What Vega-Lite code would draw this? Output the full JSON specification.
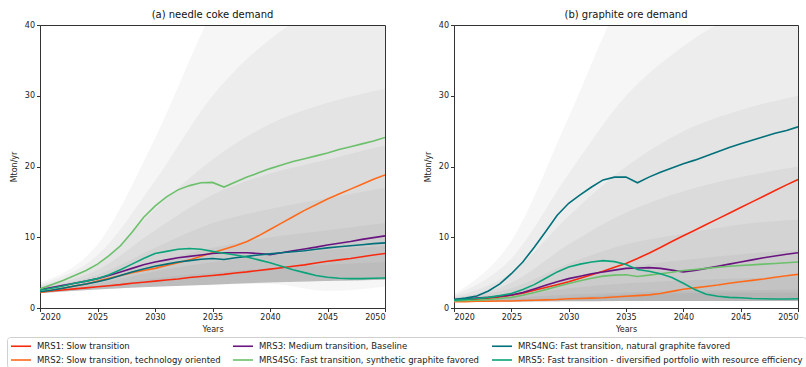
{
"$schema":"https://vega.github.io/schema/vega-lite/v6.json",
"padding":{"left":6,"top":9,"right":0,"bottom":0},
"background":"white",
"config":{
 "font":"DejaVu Sans",
 "view":{"stroke":"#333","strokeWidth":1},
 "axis":{"grid":false,"labelFontSize":8,"titleFontSize":8,"titleFontWeight":"normal","labelColor":"#222","titleColor":"#222","tickColor":"#333","domainColor":"#333","tickSize":3.5,"labelPadding":2,"labelFont":"DejaVu Sans","titleFont":"DejaVu Sans"},
 "title":{"fontSize":10,"fontWeight":"normal","font":"DejaVu Sans","color":"#111","offset":1}
},
"datasets":{
"bands":[
{"p":"a","band":"L1","year":2020,"lo":2.1,"hi":3.6},{"p":"a","band":"L1","year":2025,"lo":2.6,"hi":9},{"p":"a","band":"L1","year":2030,"lo":3.0,"hi":24},{"p":"a","band":"L1","year":2035,"lo":3.3,"hi":42},{"p":"a","band":"L1","year":2040,"lo":3.4,"hi":55},{"p":"a","band":"L1","year":2045,"lo":2.4,"hi":62},{"p":"a","band":"L1","year":2050,"lo":3.0,"hi":68},
{"p":"a","band":"L2","year":2020,"lo":2.1,"hi":3.4},{"p":"a","band":"L2","year":2025,"lo":2.6,"hi":7.5},{"p":"a","band":"L2","year":2030,"lo":3.0,"hi":18},{"p":"a","band":"L2","year":2035,"lo":3.3,"hi":30},{"p":"a","band":"L2","year":2040,"lo":3.6,"hi":38},{"p":"a","band":"L2","year":2045,"lo":3.8,"hi":43},{"p":"a","band":"L2","year":2050,"lo":4.0,"hi":46},
{"p":"a","band":"L3","year":2020,"lo":2.1,"hi":3.2},{"p":"a","band":"L3","year":2025,"lo":2.6,"hi":6.3},{"p":"a","band":"L3","year":2030,"lo":3.0,"hi":14},{"p":"a","band":"L3","year":2035,"lo":3.3,"hi":21},{"p":"a","band":"L3","year":2040,"lo":3.6,"hi":26},{"p":"a","band":"L3","year":2045,"lo":3.8,"hi":29},{"p":"a","band":"L3","year":2050,"lo":4.0,"hi":31},
{"p":"a","band":"L4","year":2020,"lo":2.1,"hi":3.0},{"p":"a","band":"L4","year":2025,"lo":2.6,"hi":5.4},{"p":"a","band":"L4","year":2030,"lo":3.0,"hi":11},{"p":"a","band":"L4","year":2035,"lo":3.3,"hi":16},{"p":"a","band":"L4","year":2040,"lo":3.6,"hi":19},{"p":"a","band":"L4","year":2045,"lo":3.8,"hi":21},{"p":"a","band":"L4","year":2050,"lo":4.0,"hi":23},
{"p":"a","band":"L5","year":2020,"lo":2.1,"hi":2.8},{"p":"a","band":"L5","year":2025,"lo":2.6,"hi":4.7},{"p":"a","band":"L5","year":2030,"lo":3.0,"hi":8.5},{"p":"a","band":"L5","year":2035,"lo":3.3,"hi":12},{"p":"a","band":"L5","year":2040,"lo":3.6,"hi":14},{"p":"a","band":"L5","year":2045,"lo":3.8,"hi":15.5},{"p":"a","band":"L5","year":2050,"lo":4.0,"hi":17},
{"p":"a","band":"L6","year":2020,"lo":2.1,"hi":2.6},{"p":"a","band":"L6","year":2025,"lo":2.6,"hi":4.0},{"p":"a","band":"L6","year":2030,"lo":3.0,"hi":6.5},{"p":"a","band":"L6","year":2035,"lo":3.3,"hi":8.5},{"p":"a","band":"L6","year":2040,"lo":3.6,"hi":10},{"p":"a","band":"L6","year":2045,"lo":3.8,"hi":11},{"p":"a","band":"L6","year":2050,"lo":4.0,"hi":12},
{"p":"a","band":"L7","year":2020,"lo":2.1,"hi":2.45},{"p":"a","band":"L7","year":2025,"lo":2.6,"hi":3.5},{"p":"a","band":"L7","year":2030,"lo":3.0,"hi":5.2},{"p":"a","band":"L7","year":2035,"lo":3.3,"hi":6.5},{"p":"a","band":"L7","year":2040,"lo":3.6,"hi":7.4},{"p":"a","band":"L7","year":2045,"lo":3.8,"hi":8.2},{"p":"a","band":"L7","year":2050,"lo":4.0,"hi":8.8},
{"p":"a","band":"L8","year":2020,"lo":2.1,"hi":2.3},{"p":"a","band":"L8","year":2025,"lo":2.6,"hi":3.1},{"p":"a","band":"L8","year":2030,"lo":3.0,"hi":4.2},{"p":"a","band":"L8","year":2035,"lo":3.3,"hi":5.0},{"p":"a","band":"L8","year":2040,"lo":3.6,"hi":5.6},{"p":"a","band":"L8","year":2045,"lo":3.8,"hi":6.1},{"p":"a","band":"L8","year":2050,"lo":4.0,"hi":6.5},
{"p":"b","band":"L1","year":2020,"lo":0.9,"hi":2.0},{"p":"b","band":"L1","year":2025,"lo":0.9,"hi":9.5},{"p":"b","band":"L1","year":2030,"lo":0.95,"hi":27},{"p":"b","band":"L1","year":2035,"lo":1.0,"hi":45},{"p":"b","band":"L1","year":2040,"lo":1.0,"hi":55},{"p":"b","band":"L1","year":2045,"lo":1.0,"hi":62},{"p":"b","band":"L1","year":2050,"lo":1.0,"hi":68},
{"p":"b","band":"L2","year":2020,"lo":0.9,"hi":1.8},{"p":"b","band":"L2","year":2025,"lo":0.9,"hi":7},{"p":"b","band":"L2","year":2030,"lo":0.95,"hi":19},{"p":"b","band":"L2","year":2035,"lo":1.0,"hi":30},{"p":"b","band":"L2","year":2040,"lo":1.0,"hi":37},{"p":"b","band":"L2","year":2045,"lo":1.0,"hi":42},{"p":"b","band":"L2","year":2050,"lo":1.0,"hi":46},
{"p":"b","band":"L3","year":2020,"lo":0.9,"hi":1.65},{"p":"b","band":"L3","year":2025,"lo":0.9,"hi":5},{"p":"b","band":"L3","year":2030,"lo":0.95,"hi":13},{"p":"b","band":"L3","year":2035,"lo":1.0,"hi":20},{"p":"b","band":"L3","year":2040,"lo":1.0,"hi":25},{"p":"b","band":"L3","year":2045,"lo":1.0,"hi":28},{"p":"b","band":"L3","year":2050,"lo":1.0,"hi":30},
{"p":"b","band":"L4","year":2020,"lo":0.9,"hi":1.5},{"p":"b","band":"L4","year":2025,"lo":0.9,"hi":3.6},{"p":"b","band":"L4","year":2030,"lo":0.95,"hi":9},{"p":"b","band":"L4","year":2035,"lo":1.0,"hi":13.5},{"p":"b","band":"L4","year":2040,"lo":1.0,"hi":16.5},{"p":"b","band":"L4","year":2045,"lo":1.0,"hi":18.5},{"p":"b","band":"L4","year":2050,"lo":1.0,"hi":20},
{"p":"b","band":"L5","year":2020,"lo":0.9,"hi":1.4},{"p":"b","band":"L5","year":2025,"lo":0.9,"hi":2.8},{"p":"b","band":"L5","year":2030,"lo":0.95,"hi":6.3},{"p":"b","band":"L5","year":2035,"lo":1.0,"hi":9},{"p":"b","band":"L5","year":2040,"lo":1.0,"hi":10.5},{"p":"b","band":"L5","year":2045,"lo":1.0,"hi":11.8},{"p":"b","band":"L5","year":2050,"lo":1.0,"hi":12.5},
{"p":"b","band":"L6","year":2020,"lo":0.9,"hi":1.3},{"p":"b","band":"L6","year":2025,"lo":0.9,"hi":2.2},{"p":"b","band":"L6","year":2030,"lo":0.95,"hi":4.3},{"p":"b","band":"L6","year":2035,"lo":1.0,"hi":5.8},{"p":"b","band":"L6","year":2040,"lo":1.0,"hi":6.8},{"p":"b","band":"L6","year":2045,"lo":1.0,"hi":7.6},{"p":"b","band":"L6","year":2050,"lo":1.0,"hi":8.2},
{"p":"b","band":"L7","year":2020,"lo":0.9,"hi":1.2},{"p":"b","band":"L7","year":2025,"lo":0.9,"hi":1.7},{"p":"b","band":"L7","year":2030,"lo":0.95,"hi":2.8},{"p":"b","band":"L7","year":2035,"lo":1.0,"hi":3.5},{"p":"b","band":"L7","year":2040,"lo":1.0,"hi":3.9},{"p":"b","band":"L7","year":2045,"lo":1.0,"hi":4.2},{"p":"b","band":"L7","year":2050,"lo":1.0,"hi":4.5},
{"p":"b","band":"L8","year":2020,"lo":0.9,"hi":1.1},{"p":"b","band":"L8","year":2025,"lo":0.9,"hi":1.4},{"p":"b","band":"L8","year":2030,"lo":0.95,"hi":1.9},{"p":"b","band":"L8","year":2035,"lo":1.0,"hi":2.2},{"p":"b","band":"L8","year":2040,"lo":1.0,"hi":2.4},{"p":"b","band":"L8","year":2045,"lo":1.0,"hi":2.5},{"p":"b","band":"L8","year":2050,"lo":1.0,"hi":2.6},
{"p":"b","band":"L9","year":2020,"lo":0.95,"hi":1.1},{"p":"b","band":"L9","year":2025,"lo":0.95,"hi":1.2},{"p":"b","band":"L9","year":2030,"lo":1.0,"hi":1.5},{"p":"b","band":"L9","year":2035,"lo":1.0,"hi":1.9},{"p":"b","band":"L9","year":2040,"lo":1.0,"hi":2.1},{"p":"b","band":"L9","year":2045,"lo":1.0,"hi":2.2},{"p":"b","band":"L9","year":2050,"lo":1.0,"hi":2.2}
],
"lines":[
{"p":"a","s":"MRS1","year":2020,"v":2.25},{"p":"a","s":"MRS1","year":2021,"v":2.4},{"p":"a","s":"MRS1","year":2022,"v":2.55},{"p":"a","s":"MRS1","year":2023,"v":2.7},{"p":"a","s":"MRS1","year":2024,"v":2.85},{"p":"a","s":"MRS1","year":2025,"v":3.0},{"p":"a","s":"MRS1","year":2026,"v":3.15},{"p":"a","s":"MRS1","year":2027,"v":3.3},{"p":"a","s":"MRS1","year":2028,"v":3.5},{"p":"a","s":"MRS1","year":2029,"v":3.65},{"p":"a","s":"MRS1","year":2030,"v":3.8},{"p":"a","s":"MRS1","year":2031,"v":3.95},{"p":"a","s":"MRS1","year":2032,"v":4.1},{"p":"a","s":"MRS1","year":2033,"v":4.3},{"p":"a","s":"MRS1","year":2034,"v":4.45},{"p":"a","s":"MRS1","year":2035,"v":4.6},{"p":"a","s":"MRS1","year":2036,"v":4.75},{"p":"a","s":"MRS1","year":2037,"v":4.95},{"p":"a","s":"MRS1","year":2038,"v":5.1},{"p":"a","s":"MRS1","year":2039,"v":5.3},{"p":"a","s":"MRS1","year":2040,"v":5.5},{"p":"a","s":"MRS1","year":2041,"v":5.7},{"p":"a","s":"MRS1","year":2042,"v":5.9},{"p":"a","s":"MRS1","year":2043,"v":6.1},{"p":"a","s":"MRS1","year":2044,"v":6.35},{"p":"a","s":"MRS1","year":2045,"v":6.6},{"p":"a","s":"MRS1","year":2046,"v":6.8},{"p":"a","s":"MRS1","year":2047,"v":7.0},{"p":"a","s":"MRS1","year":2048,"v":7.25},{"p":"a","s":"MRS1","year":2049,"v":7.5},{"p":"a","s":"MRS1","year":2050,"v":7.7},
{"p":"a","s":"MRS2","year":2020,"v":2.2},{"p":"a","s":"MRS2","year":2021,"v":2.5},{"p":"a","s":"MRS2","year":2022,"v":2.8},{"p":"a","s":"MRS2","year":2023,"v":3.1},{"p":"a","s":"MRS2","year":2024,"v":3.4},{"p":"a","s":"MRS2","year":2025,"v":3.8},{"p":"a","s":"MRS2","year":2026,"v":4.2},{"p":"a","s":"MRS2","year":2027,"v":4.6},{"p":"a","s":"MRS2","year":2028,"v":5.0},{"p":"a","s":"MRS2","year":2029,"v":5.3},{"p":"a","s":"MRS2","year":2030,"v":5.6},{"p":"a","s":"MRS2","year":2031,"v":6.0},{"p":"a","s":"MRS2","year":2032,"v":6.4},{"p":"a","s":"MRS2","year":2033,"v":6.8},{"p":"a","s":"MRS2","year":2034,"v":7.3},{"p":"a","s":"MRS2","year":2035,"v":7.8},{"p":"a","s":"MRS2","year":2036,"v":8.3},{"p":"a","s":"MRS2","year":2037,"v":8.8},{"p":"a","s":"MRS2","year":2038,"v":9.4},{"p":"a","s":"MRS2","year":2039,"v":10.2},{"p":"a","s":"MRS2","year":2040,"v":11.1},{"p":"a","s":"MRS2","year":2041,"v":12.0},{"p":"a","s":"MRS2","year":2042,"v":12.9},{"p":"a","s":"MRS2","year":2043,"v":13.8},{"p":"a","s":"MRS2","year":2044,"v":14.6},{"p":"a","s":"MRS2","year":2045,"v":15.4},{"p":"a","s":"MRS2","year":2046,"v":16.1},{"p":"a","s":"MRS2","year":2047,"v":16.8},{"p":"a","s":"MRS2","year":2048,"v":17.5},{"p":"a","s":"MRS2","year":2049,"v":18.2},{"p":"a","s":"MRS2","year":2050,"v":18.8},
{"p":"a","s":"MRS3","year":2020,"v":2.6},{"p":"a","s":"MRS3","year":2021,"v":2.9},{"p":"a","s":"MRS3","year":2022,"v":3.2},{"p":"a","s":"MRS3","year":2023,"v":3.5},{"p":"a","s":"MRS3","year":2024,"v":3.8},{"p":"a","s":"MRS3","year":2025,"v":4.15},{"p":"a","s":"MRS3","year":2026,"v":4.6},{"p":"a","s":"MRS3","year":2027,"v":5.1},{"p":"a","s":"MRS3","year":2028,"v":5.6},{"p":"a","s":"MRS3","year":2029,"v":6.1},{"p":"a","s":"MRS3","year":2030,"v":6.5},{"p":"a","s":"MRS3","year":2031,"v":6.8},{"p":"a","s":"MRS3","year":2032,"v":7.1},{"p":"a","s":"MRS3","year":2033,"v":7.3},{"p":"a","s":"MRS3","year":2034,"v":7.5},{"p":"a","s":"MRS3","year":2035,"v":7.7},{"p":"a","s":"MRS3","year":2036,"v":7.8},{"p":"a","s":"MRS3","year":2037,"v":7.8},{"p":"a","s":"MRS3","year":2038,"v":7.8},{"p":"a","s":"MRS3","year":2039,"v":7.7},{"p":"a","s":"MRS3","year":2040,"v":7.55},{"p":"a","s":"MRS3","year":2041,"v":7.8},{"p":"a","s":"MRS3","year":2042,"v":8.1},{"p":"a","s":"MRS3","year":2043,"v":8.35},{"p":"a","s":"MRS3","year":2044,"v":8.6},{"p":"a","s":"MRS3","year":2045,"v":8.9},{"p":"a","s":"MRS3","year":2046,"v":9.15},{"p":"a","s":"MRS3","year":2047,"v":9.4},{"p":"a","s":"MRS3","year":2048,"v":9.7},{"p":"a","s":"MRS3","year":2049,"v":9.95},{"p":"a","s":"MRS3","year":2050,"v":10.2},
{"p":"a","s":"MRS4SG","year":2020,"v":2.7},{"p":"a","s":"MRS4SG","year":2021,"v":3.3},{"p":"a","s":"MRS4SG","year":2022,"v":3.9},{"p":"a","s":"MRS4SG","year":2023,"v":4.6},{"p":"a","s":"MRS4SG","year":2024,"v":5.3},{"p":"a","s":"MRS4SG","year":2025,"v":6.2},{"p":"a","s":"MRS4SG","year":2026,"v":7.4},{"p":"a","s":"MRS4SG","year":2027,"v":8.8},{"p":"a","s":"MRS4SG","year":2028,"v":10.7},{"p":"a","s":"MRS4SG","year":2029,"v":12.8},{"p":"a","s":"MRS4SG","year":2030,"v":14.4},{"p":"a","s":"MRS4SG","year":2031,"v":15.7},{"p":"a","s":"MRS4SG","year":2032,"v":16.7},{"p":"a","s":"MRS4SG","year":2033,"v":17.3},{"p":"a","s":"MRS4SG","year":2034,"v":17.7},{"p":"a","s":"MRS4SG","year":2035,"v":17.75},{"p":"a","s":"MRS4SG","year":2036,"v":17.1},{"p":"a","s":"MRS4SG","year":2037,"v":17.8},{"p":"a","s":"MRS4SG","year":2038,"v":18.5},{"p":"a","s":"MRS4SG","year":2039,"v":19.1},{"p":"a","s":"MRS4SG","year":2040,"v":19.7},{"p":"a","s":"MRS4SG","year":2041,"v":20.2},{"p":"a","s":"MRS4SG","year":2042,"v":20.7},{"p":"a","s":"MRS4SG","year":2043,"v":21.1},{"p":"a","s":"MRS4SG","year":2044,"v":21.5},{"p":"a","s":"MRS4SG","year":2045,"v":21.9},{"p":"a","s":"MRS4SG","year":2046,"v":22.4},{"p":"a","s":"MRS4SG","year":2047,"v":22.8},{"p":"a","s":"MRS4SG","year":2048,"v":23.2},{"p":"a","s":"MRS4SG","year":2049,"v":23.6},{"p":"a","s":"MRS4SG","year":2050,"v":24.1},
{"p":"a","s":"MRS4NG","year":2020,"v":2.3},{"p":"a","s":"MRS4NG","year":2021,"v":2.5},{"p":"a","s":"MRS4NG","year":2022,"v":2.8},{"p":"a","s":"MRS4NG","year":2023,"v":3.1},{"p":"a","s":"MRS4NG","year":2024,"v":3.4},{"p":"a","s":"MRS4NG","year":2025,"v":3.7},{"p":"a","s":"MRS4NG","year":2026,"v":4.1},{"p":"a","s":"MRS4NG","year":2027,"v":4.6},{"p":"a","s":"MRS4NG","year":2028,"v":5.1},{"p":"a","s":"MRS4NG","year":2029,"v":5.5},{"p":"a","s":"MRS4NG","year":2030,"v":5.9},{"p":"a","s":"MRS4NG","year":2031,"v":6.2},{"p":"a","s":"MRS4NG","year":2032,"v":6.5},{"p":"a","s":"MRS4NG","year":2033,"v":6.7},{"p":"a","s":"MRS4NG","year":2034,"v":6.9},{"p":"a","s":"MRS4NG","year":2035,"v":7.0},{"p":"a","s":"MRS4NG","year":2036,"v":6.85},{"p":"a","s":"MRS4NG","year":2037,"v":7.1},{"p":"a","s":"MRS4NG","year":2038,"v":7.3},{"p":"a","s":"MRS4NG","year":2039,"v":7.5},{"p":"a","s":"MRS4NG","year":2040,"v":7.65},{"p":"a","s":"MRS4NG","year":2041,"v":7.8},{"p":"a","s":"MRS4NG","year":2042,"v":7.95},{"p":"a","s":"MRS4NG","year":2043,"v":8.1},{"p":"a","s":"MRS4NG","year":2044,"v":8.3},{"p":"a","s":"MRS4NG","year":2045,"v":8.5},{"p":"a","s":"MRS4NG","year":2046,"v":8.65},{"p":"a","s":"MRS4NG","year":2047,"v":8.8},{"p":"a","s":"MRS4NG","year":2048,"v":8.95},{"p":"a","s":"MRS4NG","year":2049,"v":9.1},{"p":"a","s":"MRS4NG","year":2050,"v":9.2},
{"p":"a","s":"MRS5","year":2020,"v":2.5},{"p":"a","s":"MRS5","year":2021,"v":2.8},{"p":"a","s":"MRS5","year":2022,"v":3.1},{"p":"a","s":"MRS5","year":2023,"v":3.5},{"p":"a","s":"MRS5","year":2024,"v":3.8},{"p":"a","s":"MRS5","year":2025,"v":4.15},{"p":"a","s":"MRS5","year":2026,"v":4.7},{"p":"a","s":"MRS5","year":2027,"v":5.4},{"p":"a","s":"MRS5","year":2028,"v":6.2},{"p":"a","s":"MRS5","year":2029,"v":7.0},{"p":"a","s":"MRS5","year":2030,"v":7.7},{"p":"a","s":"MRS5","year":2031,"v":8.0},{"p":"a","s":"MRS5","year":2032,"v":8.3},{"p":"a","s":"MRS5","year":2033,"v":8.4},{"p":"a","s":"MRS5","year":2034,"v":8.3},{"p":"a","s":"MRS5","year":2035,"v":8.0},{"p":"a","s":"MRS5","year":2036,"v":7.75},{"p":"a","s":"MRS5","year":2037,"v":7.5},{"p":"a","s":"MRS5","year":2038,"v":7.2},{"p":"a","s":"MRS5","year":2039,"v":6.8},{"p":"a","s":"MRS5","year":2040,"v":6.4},{"p":"a","s":"MRS5","year":2041,"v":5.9},{"p":"a","s":"MRS5","year":2042,"v":5.4},{"p":"a","s":"MRS5","year":2043,"v":5.0},{"p":"a","s":"MRS5","year":2044,"v":4.6},{"p":"a","s":"MRS5","year":2045,"v":4.35},{"p":"a","s":"MRS5","year":2046,"v":4.2},{"p":"a","s":"MRS5","year":2047,"v":4.15},{"p":"a","s":"MRS5","year":2048,"v":4.15},{"p":"a","s":"MRS5","year":2049,"v":4.2},{"p":"a","s":"MRS5","year":2050,"v":4.25},
{"p":"b","s":"MRS1","year":2020,"v":1.0},{"p":"b","s":"MRS1","year":2021,"v":1.1},{"p":"b","s":"MRS1","year":2022,"v":1.2},{"p":"b","s":"MRS1","year":2023,"v":1.35},{"p":"b","s":"MRS1","year":2024,"v":1.55},{"p":"b","s":"MRS1","year":2025,"v":1.8},{"p":"b","s":"MRS1","year":2026,"v":2.1},{"p":"b","s":"MRS1","year":2027,"v":2.5},{"p":"b","s":"MRS1","year":2028,"v":2.9},{"p":"b","s":"MRS1","year":2029,"v":3.3},{"p":"b","s":"MRS1","year":2030,"v":3.7},{"p":"b","s":"MRS1","year":2031,"v":4.2},{"p":"b","s":"MRS1","year":2032,"v":4.7},{"p":"b","s":"MRS1","year":2033,"v":5.2},{"p":"b","s":"MRS1","year":2034,"v":5.75},{"p":"b","s":"MRS1","year":2035,"v":6.3},{"p":"b","s":"MRS1","year":2036,"v":7.0},{"p":"b","s":"MRS1","year":2037,"v":7.75},{"p":"b","s":"MRS1","year":2038,"v":8.55},{"p":"b","s":"MRS1","year":2039,"v":9.4},{"p":"b","s":"MRS1","year":2040,"v":10.2},{"p":"b","s":"MRS1","year":2041,"v":11.0},{"p":"b","s":"MRS1","year":2042,"v":11.8},{"p":"b","s":"MRS1","year":2043,"v":12.6},{"p":"b","s":"MRS1","year":2044,"v":13.4},{"p":"b","s":"MRS1","year":2045,"v":14.2},{"p":"b","s":"MRS1","year":2046,"v":15.0},{"p":"b","s":"MRS1","year":2047,"v":15.8},{"p":"b","s":"MRS1","year":2048,"v":16.6},{"p":"b","s":"MRS1","year":2049,"v":17.4},{"p":"b","s":"MRS1","year":2050,"v":18.15},
{"p":"b","s":"MRS2","year":2020,"v":0.9},{"p":"b","s":"MRS2","year":2021,"v":0.9},{"p":"b","s":"MRS2","year":2022,"v":0.95},{"p":"b","s":"MRS2","year":2023,"v":0.95},{"p":"b","s":"MRS2","year":2024,"v":1.0},{"p":"b","s":"MRS2","year":2025,"v":1.0},{"p":"b","s":"MRS2","year":2026,"v":1.05},{"p":"b","s":"MRS2","year":2027,"v":1.1},{"p":"b","s":"MRS2","year":2028,"v":1.15},{"p":"b","s":"MRS2","year":2029,"v":1.2},{"p":"b","s":"MRS2","year":2030,"v":1.3},{"p":"b","s":"MRS2","year":2031,"v":1.35},{"p":"b","s":"MRS2","year":2032,"v":1.4},{"p":"b","s":"MRS2","year":2033,"v":1.45},{"p":"b","s":"MRS2","year":2034,"v":1.55},{"p":"b","s":"MRS2","year":2035,"v":1.65},{"p":"b","s":"MRS2","year":2036,"v":1.75},{"p":"b","s":"MRS2","year":2037,"v":1.85},{"p":"b","s":"MRS2","year":2038,"v":2.05},{"p":"b","s":"MRS2","year":2039,"v":2.35},{"p":"b","s":"MRS2","year":2040,"v":2.65},{"p":"b","s":"MRS2","year":2041,"v":2.85},{"p":"b","s":"MRS2","year":2042,"v":3.05},{"p":"b","s":"MRS2","year":2043,"v":3.25},{"p":"b","s":"MRS2","year":2044,"v":3.5},{"p":"b","s":"MRS2","year":2045,"v":3.7},{"p":"b","s":"MRS2","year":2046,"v":3.9},{"p":"b","s":"MRS2","year":2047,"v":4.1},{"p":"b","s":"MRS2","year":2048,"v":4.35},{"p":"b","s":"MRS2","year":2049,"v":4.55},{"p":"b","s":"MRS2","year":2050,"v":4.75},
{"p":"b","s":"MRS3","year":2020,"v":1.2},{"p":"b","s":"MRS3","year":2021,"v":1.3},{"p":"b","s":"MRS3","year":2022,"v":1.4},{"p":"b","s":"MRS3","year":2023,"v":1.5},{"p":"b","s":"MRS3","year":2024,"v":1.65},{"p":"b","s":"MRS3","year":2025,"v":1.85},{"p":"b","s":"MRS3","year":2026,"v":2.2},{"p":"b","s":"MRS3","year":2027,"v":2.7},{"p":"b","s":"MRS3","year":2028,"v":3.2},{"p":"b","s":"MRS3","year":2029,"v":3.7},{"p":"b","s":"MRS3","year":2030,"v":4.15},{"p":"b","s":"MRS3","year":2031,"v":4.5},{"p":"b","s":"MRS3","year":2032,"v":4.85},{"p":"b","s":"MRS3","year":2033,"v":5.1},{"p":"b","s":"MRS3","year":2034,"v":5.35},{"p":"b","s":"MRS3","year":2035,"v":5.6},{"p":"b","s":"MRS3","year":2036,"v":5.65},{"p":"b","s":"MRS3","year":2037,"v":5.7},{"p":"b","s":"MRS3","year":2038,"v":5.6},{"p":"b","s":"MRS3","year":2039,"v":5.35},{"p":"b","s":"MRS3","year":2040,"v":5.1},{"p":"b","s":"MRS3","year":2041,"v":5.3},{"p":"b","s":"MRS3","year":2042,"v":5.6},{"p":"b","s":"MRS3","year":2043,"v":5.9},{"p":"b","s":"MRS3","year":2044,"v":6.2},{"p":"b","s":"MRS3","year":2045,"v":6.5},{"p":"b","s":"MRS3","year":2046,"v":6.8},{"p":"b","s":"MRS3","year":2047,"v":7.1},{"p":"b","s":"MRS3","year":2048,"v":7.35},{"p":"b","s":"MRS3","year":2049,"v":7.6},{"p":"b","s":"MRS3","year":2050,"v":7.8},
{"p":"b","s":"MRS4SG","year":2020,"v":1.0},{"p":"b","s":"MRS4SG","year":2021,"v":1.05},{"p":"b","s":"MRS4SG","year":2022,"v":1.1},{"p":"b","s":"MRS4SG","year":2023,"v":1.2},{"p":"b","s":"MRS4SG","year":2024,"v":1.35},{"p":"b","s":"MRS4SG","year":2025,"v":1.5},{"p":"b","s":"MRS4SG","year":2026,"v":1.8},{"p":"b","s":"MRS4SG","year":2027,"v":2.2},{"p":"b","s":"MRS4SG","year":2028,"v":2.6},{"p":"b","s":"MRS4SG","year":2029,"v":3.05},{"p":"b","s":"MRS4SG","year":2030,"v":3.45},{"p":"b","s":"MRS4SG","year":2031,"v":3.85},{"p":"b","s":"MRS4SG","year":2032,"v":4.2},{"p":"b","s":"MRS4SG","year":2033,"v":4.5},{"p":"b","s":"MRS4SG","year":2034,"v":4.65},{"p":"b","s":"MRS4SG","year":2035,"v":4.7},{"p":"b","s":"MRS4SG","year":2036,"v":4.45},{"p":"b","s":"MRS4SG","year":2037,"v":4.65},{"p":"b","s":"MRS4SG","year":2038,"v":4.85},{"p":"b","s":"MRS4SG","year":2039,"v":5.05},{"p":"b","s":"MRS4SG","year":2040,"v":5.3},{"p":"b","s":"MRS4SG","year":2041,"v":5.45},{"p":"b","s":"MRS4SG","year":2042,"v":5.6},{"p":"b","s":"MRS4SG","year":2043,"v":5.75},{"p":"b","s":"MRS4SG","year":2044,"v":5.9},{"p":"b","s":"MRS4SG","year":2045,"v":6.0},{"p":"b","s":"MRS4SG","year":2046,"v":6.1},{"p":"b","s":"MRS4SG","year":2047,"v":6.2},{"p":"b","s":"MRS4SG","year":2048,"v":6.3},{"p":"b","s":"MRS4SG","year":2049,"v":6.4},{"p":"b","s":"MRS4SG","year":2050,"v":6.5},
{"p":"b","s":"MRS4NG","year":2020,"v":1.2},{"p":"b","s":"MRS4NG","year":2021,"v":1.4},{"p":"b","s":"MRS4NG","year":2022,"v":1.7},{"p":"b","s":"MRS4NG","year":2023,"v":2.4},{"p":"b","s":"MRS4NG","year":2024,"v":3.4},{"p":"b","s":"MRS4NG","year":2025,"v":4.85},{"p":"b","s":"MRS4NG","year":2026,"v":6.5},{"p":"b","s":"MRS4NG","year":2027,"v":8.6},{"p":"b","s":"MRS4NG","year":2028,"v":10.8},{"p":"b","s":"MRS4NG","year":2029,"v":13.1},{"p":"b","s":"MRS4NG","year":2030,"v":14.8},{"p":"b","s":"MRS4NG","year":2031,"v":16.0},{"p":"b","s":"MRS4NG","year":2032,"v":17.1},{"p":"b","s":"MRS4NG","year":2033,"v":18.1},{"p":"b","s":"MRS4NG","year":2034,"v":18.5},{"p":"b","s":"MRS4NG","year":2035,"v":18.5},{"p":"b","s":"MRS4NG","year":2036,"v":17.7},{"p":"b","s":"MRS4NG","year":2037,"v":18.5},{"p":"b","s":"MRS4NG","year":2038,"v":19.2},{"p":"b","s":"MRS4NG","year":2039,"v":19.8},{"p":"b","s":"MRS4NG","year":2040,"v":20.4},{"p":"b","s":"MRS4NG","year":2041,"v":20.9},{"p":"b","s":"MRS4NG","year":2042,"v":21.5},{"p":"b","s":"MRS4NG","year":2043,"v":22.1},{"p":"b","s":"MRS4NG","year":2044,"v":22.7},{"p":"b","s":"MRS4NG","year":2045,"v":23.2},{"p":"b","s":"MRS4NG","year":2046,"v":23.7},{"p":"b","s":"MRS4NG","year":2047,"v":24.2},{"p":"b","s":"MRS4NG","year":2048,"v":24.7},{"p":"b","s":"MRS4NG","year":2049,"v":25.1},{"p":"b","s":"MRS4NG","year":2050,"v":25.6},
{"p":"b","s":"MRS5","year":2020,"v":1.1},{"p":"b","s":"MRS5","year":2021,"v":1.2},{"p":"b","s":"MRS5","year":2022,"v":1.35},{"p":"b","s":"MRS5","year":2023,"v":1.5},{"p":"b","s":"MRS5","year":2024,"v":1.75},{"p":"b","s":"MRS5","year":2025,"v":2.05},{"p":"b","s":"MRS5","year":2026,"v":2.6},{"p":"b","s":"MRS5","year":2027,"v":3.3},{"p":"b","s":"MRS5","year":2028,"v":4.2},{"p":"b","s":"MRS5","year":2029,"v":5.1},{"p":"b","s":"MRS5","year":2030,"v":5.8},{"p":"b","s":"MRS5","year":2031,"v":6.2},{"p":"b","s":"MRS5","year":2032,"v":6.5},{"p":"b","s":"MRS5","year":2033,"v":6.7},{"p":"b","s":"MRS5","year":2034,"v":6.55},{"p":"b","s":"MRS5","year":2035,"v":6.15},{"p":"b","s":"MRS5","year":2036,"v":5.45},{"p":"b","s":"MRS5","year":2037,"v":5.2},{"p":"b","s":"MRS5","year":2038,"v":4.85},{"p":"b","s":"MRS5","year":2039,"v":4.3},{"p":"b","s":"MRS5","year":2040,"v":3.5},{"p":"b","s":"MRS5","year":2041,"v":2.6},{"p":"b","s":"MRS5","year":2042,"v":1.95},{"p":"b","s":"MRS5","year":2043,"v":1.65},{"p":"b","s":"MRS5","year":2044,"v":1.5},{"p":"b","s":"MRS5","year":2045,"v":1.45},{"p":"b","s":"MRS5","year":2046,"v":1.35},{"p":"b","s":"MRS5","year":2047,"v":1.3},{"p":"b","s":"MRS5","year":2048,"v":1.28},{"p":"b","s":"MRS5","year":2049,"v":1.28},{"p":"b","s":"MRS5","year":2050,"v":1.3}
]
},
"spacing":37,
"hconcat":[
{
 "width":345,"height":283,
 "title":"(a) needle coke demand",
 "layer":[
  {"data":{"name":"bands"},"transform":[{"filter":"datum.p==='a'"}],
   "mark":{"type":"area","clip":true,"interpolate":"monotone","fill":"#000","fillOpacity":0.035},
   "encoding":{
    "x":{"field":"year","type":"quantitative","scale":{"domain":[2020,2050],"nice":false,"zero":false},"axis":{"values":[2020,2025,2030,2035,2040,2045,2050],"format":"d","title":"Years"}},
    "y":{"field":"lo","type":"quantitative","scale":{"domain":[0,40],"nice":false},"axis":{"values":[0,5,10,15,20,25,30,35,40],"title":"Mton/yr","titlePadding":6}},
    "y2":{"field":"hi"},
    "detail":{"field":"band"}}},
  {"data":{"name":"lines"},"transform":[{"filter":"datum.p==='a'"}],
   "mark":{"type":"line","clip":true,"strokeWidth":1.6},
   "encoding":{
    "x":{"field":"year","type":"quantitative"},
    "y":{"field":"v","type":"quantitative"},
    "color":{"field":"s","type":"nominal",
      "scale":{"domain":["MRS1","MRS3","MRS4NG","MRS2","MRS4SG","MRS5"],"range":["#f8290f","#6a1480","#00707a","#ff6a1a","#6cc06c","#0aa37a"]},
      "legend":{"title":null,"orient":"none","legendX":-33,"legendY":312,"direction":"horizontal","columns":3,"columnPadding":8,"rowPadding":3,"symbolType":"M-1,0H3","symbolSize":100,"symbolStrokeWidth":1.6,"labelFontSize":8.5,"labelFont":"DejaVu Sans","labelColor":"#222","labelOffset":15,"strokeColor":"#d0d0d0","cornerRadius":3,"padding":3,"fillColor":"white","labelLimit":400,
       "labelExpr":"{'MRS1':'MRS1: Slow transition','MRS2':'MRS2: Slow transition, technology oriented','MRS3':'MRS3: Medium transition, Baseline','MRS4SG':'MRS4SG: Fast transition, synthetic graphite favored','MRS4NG':'MRS4NG: Fast transition, natural graphite favored','MRS5':'MRS5: Fast transition - diversified portfolio with resource efficiency'}[datum.label]"}}}}
 ]
},
{
 "width":344,"height":283,
 "title":"(b) graphite ore demand",
 "layer":[
  {"data":{"name":"bands"},"transform":[{"filter":"datum.p==='b'"}],
   "mark":{"type":"area","clip":true,"interpolate":"monotone","fill":"#000","fillOpacity":0.035},
   "encoding":{
    "x":{"field":"year","type":"quantitative","scale":{"domain":[2020,2050],"nice":false,"zero":false},"axis":{"values":[2020,2025,2030,2035,2040,2045,2050],"format":"d","title":"Years"}},
    "y":{"field":"lo","type":"quantitative","scale":{"domain":[0,40],"nice":false},"axis":{"values":[0,5,10,15,20,25,30,35,40],"title":"Mton/yr","titlePadding":6}},
    "y2":{"field":"hi"},
    "detail":{"field":"band"}}},
  {"data":{"name":"lines"},"transform":[{"filter":"datum.p==='b'"}],
   "mark":{"type":"line","clip":true,"strokeWidth":1.6},
   "encoding":{
    "x":{"field":"year","type":"quantitative"},
    "y":{"field":"v","type":"quantitative"},
    "color":{"field":"s","type":"nominal"}}}
 ]
}
]
}
